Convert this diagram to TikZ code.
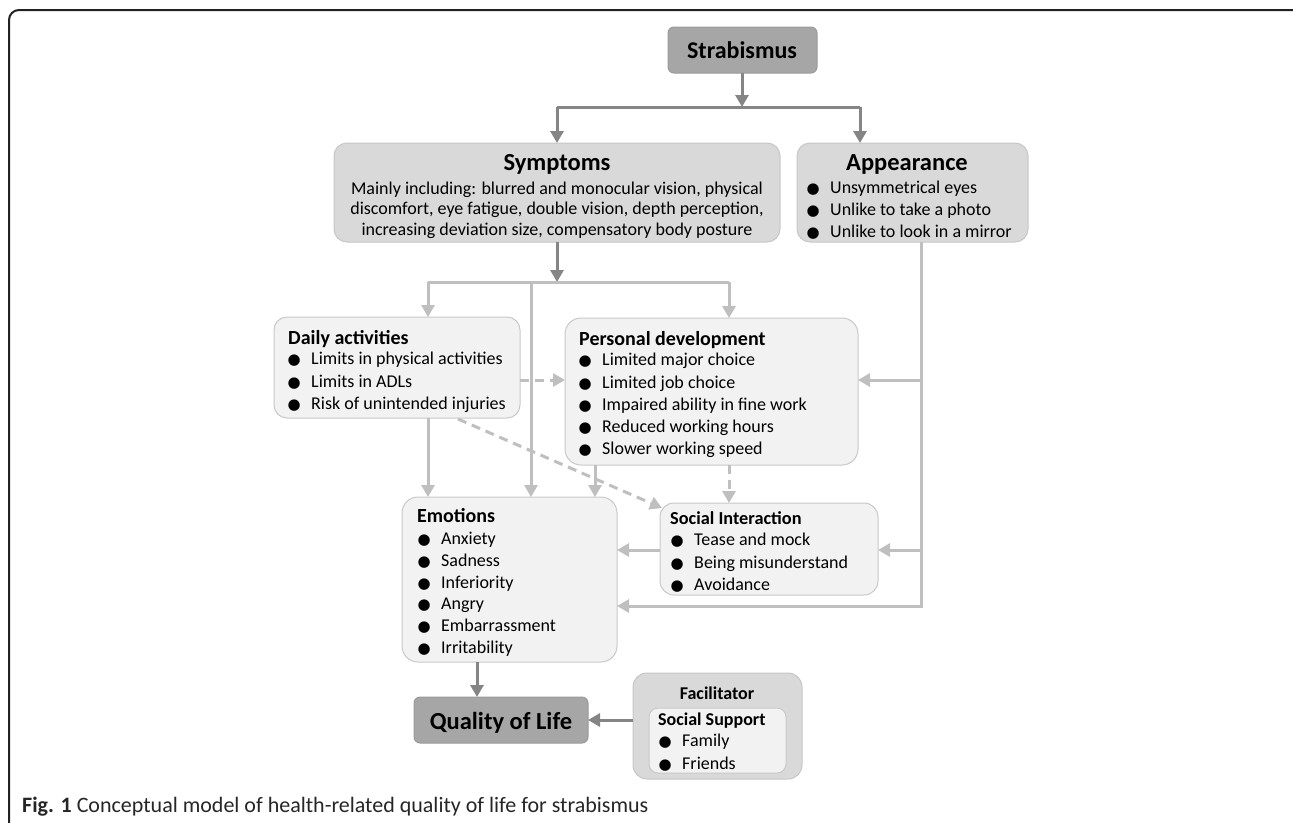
\documentclass[tikz,border=0pt]{standalone}
\usepackage{fontspec}
\setmainfont{Carlito}
\newfontfamily\dejavu{DejaVu Sans}
\usetikzlibrary{arrows.meta}
\definecolor{darkbox}{HTML}{A6A6A6}
\definecolor{darkedge}{HTML}{9A9A9A}
\definecolor{midbox}{HTML}{D9D9D9}
\definecolor{midedge}{HTML}{C6C6C6}
\definecolor{lightbox}{HTML}{F2F2F2}
\definecolor{lightedge}{HTML}{C8C8C8}
\definecolor{darkline}{HTML}{858585}
\definecolor{lightline}{HTML}{BFBFBF}
\definecolor{framecol}{HTML}{222222}
\newcommand\bul{\makebox[12pt][c]{\dejavu\fontsize{15}{15}\selectfont ●}\hspace{11pt}}
\tikzset{
  boxbase/.style={inner sep=0, line width=1pt},
  darkb/.style={boxbase, fill=darkbox, draw=darkedge, rounded corners=6pt},
  midb/.style={boxbase, fill=midbox, draw=midedge, rounded corners=13pt},
  lightb/.style={boxbase, fill=lightbox, draw=lightedge, rounded corners=16pt},
  item/.style={anchor=base west, inner sep=0, font=\fontsize{18}{20}\selectfont},
  ctxt/.style={anchor=base, inner sep=0, font=\fontsize{18}{20}\selectfont},
  ttl/.style={anchor=base west, inner sep=0, font=\fontsize{20}{22}\selectfont\bfseries},
  bigttl/.style={anchor=base, inner sep=0, font=\fontsize{24.5}{26}\selectfont\bfseries},
  darkarr/.style={draw=darkline, line width=3pt, -{Triangle[length=12pt,width=13pt]}},
  darkln/.style={draw=darkline, line width=3pt},
  lightarr/.style={draw=lightline, line width=3pt, -{Triangle[length=12pt,width=13pt]}},
  lightln/.style={draw=lightline, line width=3pt},
  dasharr/.style={lightarr, dash pattern=on 9pt off 6pt},
}
\begin{document}
\begin{tikzpicture}[x=1pt,y=-1pt]
\useasboundingbox (0,0) rectangle (1293,822);
\clip (0,0) rectangle (1293,822);
\draw[framecol, line width=2pt, rounded corners=10pt] (9,830) -- (9,10) -- (1302,10) -- (1302,830);

% boxes
\path[darkb] (668,27) rectangle (817,73);
\path[midb] (334,143) rectangle (780,242);
\path[midb] (797,143) rectangle (1028,242);
\path[lightb, rounded corners=13pt] (274,317) rectangle (520,418);
\path[lightb] (565,318) rectangle (858,465);
\path[lightb] (402,497) rectangle (617,662);
\path[lightb, rounded corners=14pt] (660,503) rectangle (878,595);
\path[darkb] (414,697) rectangle (588,743);
\path[midb, rounded corners=14pt] (633,673) rectangle (802,779);
\path[lightb, rounded corners=9pt] (649,708) rectangle (786,773);

% Strabismus
\node[anchor=base, inner sep=0, font=\fontsize{24}{26}\selectfont\bfseries] (strab) at (742,58) {Strabismus};
% Symptoms
\node[bigttl] (sympT) at (557,170) {Symptoms};
\node[ctxt] (sy1) at (557,194) {Mainly including: blurred and monocular vision, physical};
\node[ctxt] (sy2) at (557,214) {discomfort, eye fatigue, double vision, depth perception,};
\node[ctxt] (sy3) at (557,235) {increasing deviation size, compensatory body posture};
% Appearance
\node[bigttl] (appT) at (907,170) {Appearance};
\node[item] (ap1) at (807,193) {\bul Unsymmetrical eyes};
\node[item] (ap2) at (807,215) {\bul Unlike to take a photo};
\node[item] (ap3) at (807,237) {\bul Unlike to look in a mirror};
% Daily activities
\node[ttl] (daT) at (288,344) {Daily activities};
\node[item] (da1) at (288,364) {\bul Limits in physical activities};
\node[item] (da2) at (288,387) {\bul Limits in ADLs};
\node[item] (da3) at (288,409) {\bul Risk of unintended injuries};
% Personal development
\node[ttl] (peT) at (579,345) {Personal development};
\node[item] (pe1) at (579,365) {\bul Limited major choice};
\node[item] (pe2) at (579,388) {\bul Limited job choice};
\node[item] (pe3) at (579,410) {\bul Impaired ability in fine work};
\node[item] (pe4) at (579,432) {\bul Reduced working hours};
\node[item] (pe5) at (579,454) {\bul Slower working speed};
% Emotions
\node[ttl] (emT) at (417,522) {Emotions};
\node[item] (em1) at (418,544) {\bul Anxiety};
\node[item] (em2) at (418,566) {\bul Sadness};
\node[item] (em3) at (418,588) {\bul Inferiority};
\node[item] (em4) at (418,609) {\bul Angry};
\node[item] (em5) at (418,631) {\bul Embarrassment};
\node[item] (em6) at (418,653) {\bul Irritability};
% Social interaction
\node[ttl, font=\fontsize{18.3}{20}\selectfont\bfseries] (soT) at (670,524) {Social Interaction};
\node[item] (so1) at (671,545) {\bul Tease and mock};
\node[item] (so2) at (671,568) {\bul Being misunderstand};
\node[item] (so3) at (671,590) {\bul Avoidance};
% Quality of life
\node[anchor=base, inner sep=0, font=\fontsize{24.5}{27}\selectfont\bfseries] (qolT) at (501,729) {Quality of Life};
% Facilitator
\node[anchor=base, inner sep=0, font=\fontsize{18}{20}\selectfont\bfseries] (facT) at (717,699) {Facilitator};
\node[ttl, font=\fontsize{18}{20}\selectfont\bfseries] (ssT) at (658,725) {Social Support};
\node[item] (ss1) at (659,746) {\bul Family};
\node[item] (ss2) at (659,769) {\bul Friends};
% caption
\node[anchor=base west, inner sep=0, font=\fontsize{22}{24}\selectfont, text=black!85] (cap) at (22,812) {\textbf{Fig. 1} Conceptual model of health-related quality of life for strabismus};

% coordinates for connectors
\coordinate (strabS) at (742,73);
\coordinate (j1) at (742,107);
\coordinate (jL) at (557,107);
\coordinate (jR) at (860,107);
\coordinate (sympN) at (557,143);
\coordinate (appN) at (860,143);
\coordinate (sympS) at (557,242);
\coordinate (k1) at (557,282);
\coordinate (kL) at (428,282);
\coordinate (kM) at (531,282);
\coordinate (kR) at (729,282);
\coordinate (dailyN) at (428,317);
\coordinate (persN) at (729,318);
\coordinate (dailyS) at (428,418);
\coordinate (emoN1) at (428,497);
\coordinate (emoN2) at (531,497);
\coordinate (emoN3) at (595,497);
\coordinate (persS1) at (595,465);
\coordinate (persS2) at (729,465);
\coordinate (socN) at (729,503);
\coordinate (dailyE) at (520,380);
\coordinate (persW) at (565,380);
\coordinate (dailyB) at (458,419);
\coordinate (socNW) at (662,508);
\coordinate (appS) at (921,242);
\coordinate (a1) at (921,380);
\coordinate (a2) at (921,550);
\coordinate (a3) at (921,606);
\coordinate (persE) at (858,380);
\coordinate (socE) at (878,550);
\coordinate (socW) at (660,550);
\coordinate (emoE1) at (617,550);
\coordinate (emoE2) at (617,606);
\coordinate (emoS) at (477,662);
\coordinate (qolN) at (477,697);
\coordinate (facW) at (633,720);
\coordinate (qolE) at (588,720);

% dark connectors
\draw[darkarr] (strabS) -- (j1);
\draw[darkln] (jL) -- (jR);
\draw[darkarr] (jL) -- (sympN);
\draw[darkarr] (jR) -- (appN);
\draw[darkarr] (sympS) -- (k1);
\draw[darkarr] (emoS) -- (qolN);
\draw[darkarr] (facW) -- (qolE);
% light connectors
\draw[lightln] (kL) -- (kR);
\draw[lightarr] (kL) -- (dailyN);
\draw[lightarr] (kR) -- (persN);
\draw[lightarr] (kM) -- (emoN2);
\draw[lightarr] (dailyS) -- (emoN1);
\draw[lightarr] (persS1) -- (emoN3);
\draw[dasharr] (dailyE) -- (persW);
\draw[dasharr] (dailyB) -- (socNW);
\draw[dasharr] (persS2) -- (socN);
\draw[lightarr] (appS) -- (a3) -- (emoE2);
\draw[lightarr] (a1) -- (persE);
\draw[lightarr] (a2) -- (socE);
\draw[lightarr] (socW) -- (emoE1);
\end{tikzpicture}
\end{document}
